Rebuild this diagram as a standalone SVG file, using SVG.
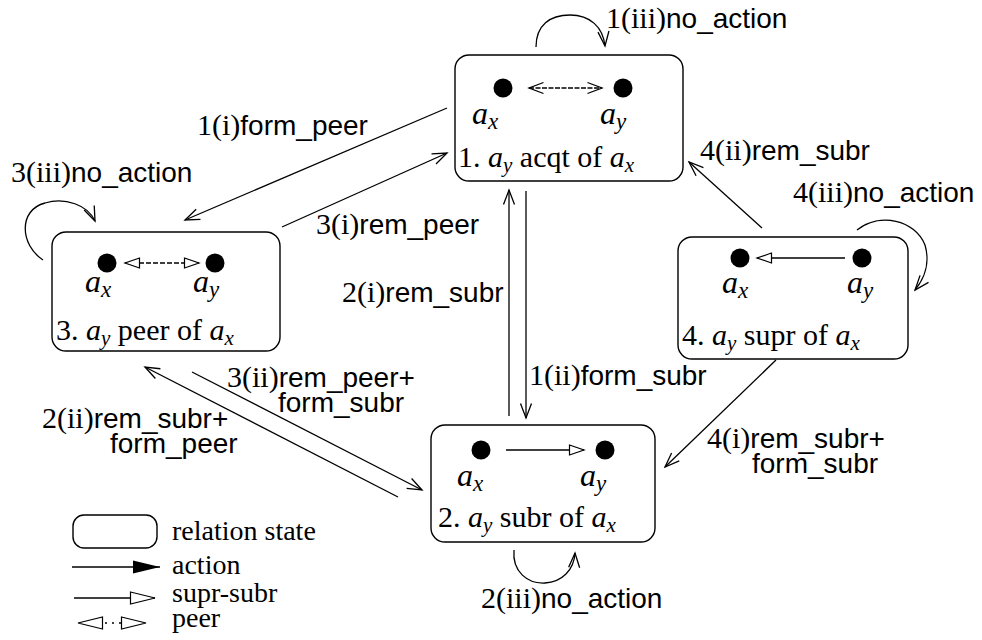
<svg xmlns="http://www.w3.org/2000/svg" width="982" height="640" viewBox="0 0 982 640">
  <style>
    .box { fill: #fff; stroke: #000; stroke-width: 1.4; }
    .dot { fill: #000; }
    .ln { fill: none; stroke: #000; stroke-width: 1.3; }
    text { font-family: "Liberation Serif", "Times New Roman", serif; font-size: 30px; fill: #000; }
    .sans { font-family: "Liberation Sans", Arial, sans-serif; font-size: 28px; }
    .i { font-style: italic; }
    .var { font-size: 32px; }
    .sub { font-style: italic; font-size: 21px; }
    .vsub { font-style: italic; font-size: 23px; }
    .key { font-size: 28px; }
  </style>
  <defs>
    <!-- open V head used for actions -->
    <marker id="v" markerUnits="userSpaceOnUse" markerWidth="18" markerHeight="14" viewBox="0 0 18 14" refX="16" refY="7" orient="auto-start-reverse">
      <path d="M1.5,1.5 L16,7 L1.5,12.5" fill="none" stroke="#000" stroke-width="1.3"/>
    </marker>
    <!-- hollow triangle head for supr-subr / peer -->
    <marker id="tri" markerUnits="userSpaceOnUse" markerWidth="18" markerHeight="14" viewBox="0 0 18 14" refX="16" refY="7" orient="auto-start-reverse">
      <path d="M1.5,2 L16,7 L1.5,12 Z" fill="#fff" stroke="#000" stroke-width="1.2"/>
    </marker>
    <!-- solid head for the key -->
    <marker id="solid" markerUnits="userSpaceOnUse" markerWidth="30" markerHeight="16" viewBox="0 0 30 16" refX="28" refY="8" orient="auto">
      <path d="M1,1.5 L28,8 L1,14.5 Z" fill="#000"/>
    </marker>
    <marker id="trilg" markerUnits="userSpaceOnUse" markerWidth="28" markerHeight="16" viewBox="0 0 28 16" refX="26" refY="8" orient="auto-start-reverse">
      <path d="M1.5,2 L26,8 L1.5,14 Z" fill="#fff" stroke="#000" stroke-width="1.2"/>
    </marker>
  </defs>

  <rect width="982" height="640" fill="#fff"/>

  <!-- state 1: acquaintance -->
  <g id="state1">
    <rect class="box" x="455" y="55" width="228" height="126" rx="14"/>
    <circle class="dot" cx="503" cy="88" r="9.5"/>
    <circle class="dot" cx="623" cy="88" r="9.5"/>
    <line class="ln" x1="529" y1="88" x2="602" y2="88" stroke-dasharray="5 1.5" marker-start="url(#v)" marker-end="url(#v)"/>
    <text x="472" y="124"><tspan class="i var">a</tspan><tspan class="vsub" dy="5">x</tspan></text>
    <text x="600" y="124"><tspan class="i var">a</tspan><tspan class="vsub" dy="5">y</tspan></text>
    <text x="458" y="167">1. <tspan class="i">a</tspan><tspan class="sub" dy="5">y</tspan><tspan dy="-5"> acqt of </tspan><tspan class="i">a</tspan><tspan class="sub" dy="5">x</tspan></text>
  </g>

  <!-- state 2: subordinate -->
  <g id="state2">
    <rect class="box" x="431" y="425" width="224" height="117" rx="14"/>
    <circle class="dot" cx="481" cy="450" r="9.5"/>
    <circle class="dot" cx="605" cy="450" r="9.5"/>
    <line class="ln" x1="506" y1="450" x2="584" y2="450" marker-end="url(#tri)"/>
    <text x="457" y="486"><tspan class="i var">a</tspan><tspan class="vsub" dy="5">x</tspan></text>
    <text x="580" y="486"><tspan class="i var">a</tspan><tspan class="vsub" dy="5">y</tspan></text>
    <text x="438" y="527">2. <tspan class="i">a</tspan><tspan class="sub" dy="5">y</tspan><tspan dy="-5"> subr of </tspan><tspan class="i">a</tspan><tspan class="sub" dy="5">x</tspan></text>
  </g>

  <!-- state 3: peer -->
  <g id="state3">
    <rect class="box" x="52" y="232" width="228" height="119" rx="14"/>
    <circle class="dot" cx="107" cy="263" r="9.5"/>
    <circle class="dot" cx="215" cy="263" r="9.5"/>
    <line class="ln" x1="125" y1="263" x2="199" y2="263" stroke-dasharray="5 2" marker-start="url(#tri)" marker-end="url(#tri)"/>
    <text x="85" y="292"><tspan class="i var">a</tspan><tspan class="vsub" dy="5">x</tspan></text>
    <text x="193" y="292"><tspan class="i var">a</tspan><tspan class="vsub" dy="5">y</tspan></text>
    <text x="56" y="340">3. <tspan class="i">a</tspan><tspan class="sub" dy="5">y</tspan><tspan dy="-5"> peer of </tspan><tspan class="i">a</tspan><tspan class="sub" dy="5">x</tspan></text>
  </g>

  <!-- state 4: superior -->
  <g id="state4">
    <rect class="box" x="678" y="237" width="230" height="122" rx="14"/>
    <circle class="dot" cx="740" cy="258" r="9.5"/>
    <circle class="dot" cx="862" cy="258" r="9.5"/>
    <line class="ln" x1="845" y1="258" x2="757" y2="258" marker-end="url(#tri)"/>
    <text x="722" y="293"><tspan class="i var">a</tspan><tspan class="vsub" dy="5">x</tspan></text>
    <text x="847" y="293"><tspan class="i var">a</tspan><tspan class="vsub" dy="5">y</tspan></text>
    <text x="682" y="345">4. <tspan class="i">a</tspan><tspan class="sub" dy="5">y</tspan><tspan dy="-5"> supr of </tspan><tspan class="i">a</tspan><tspan class="sub" dy="5">x</tspan></text>
  </g>

  <!-- transitions -->
  <g id="connectors">
    <line class="ln" x1="447" y1="108" x2="185" y2="220" marker-end="url(#v)"/>
    <line class="ln" x1="282" y1="227" x2="447" y2="153" marker-end="url(#v)"/>
    <line class="ln" x1="509" y1="416" x2="509" y2="190" marker-end="url(#v)"/>
    <line class="ln" x1="526" y1="191" x2="526" y2="418" marker-end="url(#v)"/>
    <line class="ln" x1="762" y1="228" x2="689" y2="162" marker-end="url(#v)"/>
    <line class="ln" x1="776" y1="360" x2="665" y2="467" marker-end="url(#v)"/>
    <line class="ln" x1="192" y1="372" x2="422" y2="490" marker-end="url(#v)"/>
    <line class="ln" x1="398" y1="497" x2="145" y2="367" marker-end="url(#v)"/>
    <!-- self loops -->
    <path class="ln" d="M536,47 C536,25 550,15 570,15 C590,15 603,27 605,46" marker-end="url(#v)"/>
    <path class="ln" d="M43,260 C20,245 18,210 45,203 C65,197 88,205 95,221" marker-end="url(#v)"/>
    <path class="ln" d="M857,230 C880,212 915,220 925,245 C930,262 925,278 915,290" marker-end="url(#v)"/>
    <path class="ln" d="M514,550 C512,572 528,584 545,583 C562,582 574,570 575,553" marker-end="url(#v)"/>
  </g>

  <!-- transition labels -->
  <g id="labels">
    <text x="606" y="28">1(iii)<tspan class="sans">no_action</tspan></text>
    <text x="197" y="135">1(i)<tspan class="sans">form_peer</tspan></text>
    <text x="700" y="160">4(ii)<tspan class="sans">rem_subr</tspan></text>
    <text x="11" y="182">3(iii)<tspan class="sans">no_action</tspan></text>
    <text x="793" y="202">4(iii)<tspan class="sans">no_action</tspan></text>
    <text x="316" y="234">3(i)<tspan class="sans">rem_peer</tspan></text>
    <text x="342" y="302">2(i)<tspan class="sans">rem_subr</tspan></text>
    <text x="227" y="387">3(ii)<tspan class="sans">rem_peer+</tspan></text>
    <text class="sans" x="278" y="412">form_subr</text>
    <text x="529" y="385">1(ii)<tspan class="sans">form_subr</tspan></text>
    <text x="42" y="428">2(ii)<tspan class="sans">rem_subr+</tspan></text>
    <text class="sans" x="110" y="453">form_peer</text>
    <text x="707" y="448">4(i)<tspan class="sans">rem_subr+</tspan></text>
    <text class="sans" x="752" y="473">form_subr</text>
    <text x="481" y="608">2(iii)<tspan class="sans">no_action</tspan></text>
  </g>

  <!-- key -->
  <g id="legend">
    <rect class="box" x="73" y="515" width="84" height="33" rx="11"/>
    <line class="ln" x1="72" y1="567" x2="160" y2="567" marker-end="url(#solid)"/>
    <line class="ln" x1="74" y1="598" x2="155" y2="598" marker-end="url(#trilg)"/>
    <line class="ln" x1="78" y1="623" x2="146" y2="623" stroke-dasharray="0 27 2 5 2 5 2 100" marker-start="url(#trilg)" marker-end="url(#trilg)"/>
    <text class="key" x="172" y="540">relation state</text>
    <text class="key" x="172" y="574">action</text>
    <text class="key" x="172" y="602">supr-subr</text>
    <text class="key" x="172" y="627">peer</text>
  </g>
</svg>
